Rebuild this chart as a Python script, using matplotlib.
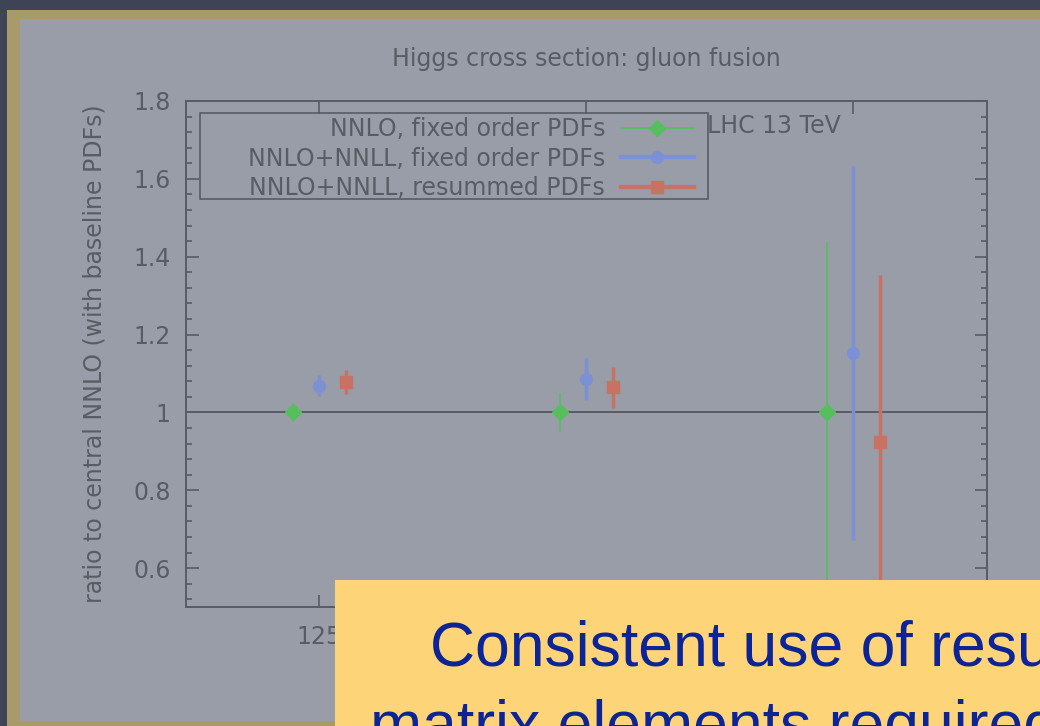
import numpy as np
import matplotlib
matplotlib.use('Agg')
from matplotlib import pyplot as plt
from matplotlib.patches import Rectangle
from matplotlib.lines import Line2D
from matplotlib.ticker import MultipleLocator

# Higgs masses (GeV) and ratios to the central NNLO result
masses = ['125', '750', '3000']
nnlo_fixed = [1.000, 1.000, 1.000]
nnlo_fixed_err = [0.025, 0.051, 0.437]
nnll_fixed = [1.069, 1.087, 1.152]
nnll_fixed_err = [0.028, 0.054, 0.480]
nnll_resummed = [1.078, 1.064, 0.925]
nnll_resummed_err = [0.030, 0.053, 0.427]

series = [
    ('NNLO, fixed order PDFs', nnlo_fixed, nnlo_fixed_err, -0.1, '#55bf5c', 'D', 8, 1.2),
    ('NNLO+NNLL, fixed order PDFs', nnll_fixed, nnll_fixed_err, 0.0, '#7b90d5', 'o', 8.5, 2.5),
    ('NNLO+NNLL, resummed PDFs', nnll_resummed, nnll_resummed_err, 0.1, '#c77262', 's', 8.5, 2.5),
]

ink = '#585c64'
fs = 17
plt.rcParams['font.family'] = ['DejaVu Sans']

fig = plt.figure(figsize=(10.4, 7.26), dpi=100)
fig.patch.set_facecolor('#3e4456')

# slide panel with its gold frame
fig.patches.append(Rectangle((0.0067, -0.02), 1.05, 1.006, transform=fig.transFigure,
                             facecolor='#a89a6c', edgecolor='none', zorder=-3))
fig.patches.append(Rectangle((0.019, 0.007), 1.05, 0.967, transform=fig.transFigure,
                             facecolor='#999da8', edgecolor='none', zorder=-2))

ax = fig.add_axes([0.1788, 0.1639, 0.7702, 0.697])
ax.set_facecolor('none')

x = np.arange(len(masses))
handles = []
for label, vals, errs, shift, color, marker, ms, lw in series:
    ax.errorbar(x + shift, vals, yerr=errs, fmt=marker, color=color, ms=ms,
                elinewidth=lw, capsize=0, zorder=3)
    handles.append(Line2D([], [], color=color, lw=lw + 0.6 if lw > 2 else lw,
                          marker=marker, ms=ms, label=label))

ax.axhline(1.0, color=ink, lw=1.4, zorder=2)

ax.set_xlim(-0.5, len(masses) - 0.5)
ax.set_ylim(0.5, 1.8)
ax.set_xticks(x)
ax.set_xticklabels(masses)
ax.yaxis.set_minor_locator(MultipleLocator(0.04))
ax.set_yticks([0.6, 0.8, 1.0, 1.2, 1.4, 1.6, 1.8])
ax.set_yticklabels(['0.6', '0.8', '1', '1.2', '1.4', '1.6', '1.8'])

for side in ax.spines.values():
    side.set_color(ink)
    side.set_linewidth(1.4)
ax.tick_params(which='both', direction='in', left=True, right=True, top=True, bottom=True,
               color=ink, labelcolor=ink, labelsize=fs)
ax.tick_params(which='major', length=9, width=1.2)
ax.tick_params(which='minor', length=4.5, width=1.2)
ax.tick_params(axis='y', pad=11)
ax.tick_params(axis='x', pad=13)

ax.set_title('Higgs cross section: gluon fusion', color=ink, fontsize=fs, pad=25.5)
ax.set_ylabel('ratio to central NNLO (with baseline PDFs)', color=ink, fontsize=fs, labelpad=19)
ax.text(0.651, 0.95, 'LHC 13 TeV', transform=ax.transAxes, color=ink, fontsize=fs,
        ha='left', va='center')

# key: labels right-aligned, samples on the right, inside a plain box
ax.add_patch(Rectangle((0.0175, 0.8063), 0.6342, 0.17, transform=ax.transAxes,
                       facecolor='none', edgecolor=ink, lw=1.2, zorder=4))
leg = ax.legend(handles=handles, loc='upper right', bbox_to_anchor=(0.634, 0.968),
                markerfirst=False, frameon=False, fontsize=fs,
                handlelength=3.1, handletextpad=0.65, borderpad=0, labelspacing=0.23,
                borderaxespad=0)
for t in leg.get_texts():
    t.set_color(ink)

# note box laid over the bottom of the slide
fig.patches.append(Rectangle((0.322, -0.05), 0.75, 0.251, transform=fig.transFigure,
                             facecolor='#fed479', edgecolor='none', zorder=5))
fig.text(0.4135, 0.084, 'Consistent use of resummed PDFs and', color='#0b2496',
         fontsize=45, family='Liberation Sans', va='baseline', ha='left', zorder=6)
fig.text(0.356, -0.026, 'matrix elements required', color='#0b2496',
         fontsize=45, family='Liberation Sans', va='baseline', ha='left', zorder=6)

fig.savefig('out.png', dpi=100, facecolor=fig.get_facecolor())
